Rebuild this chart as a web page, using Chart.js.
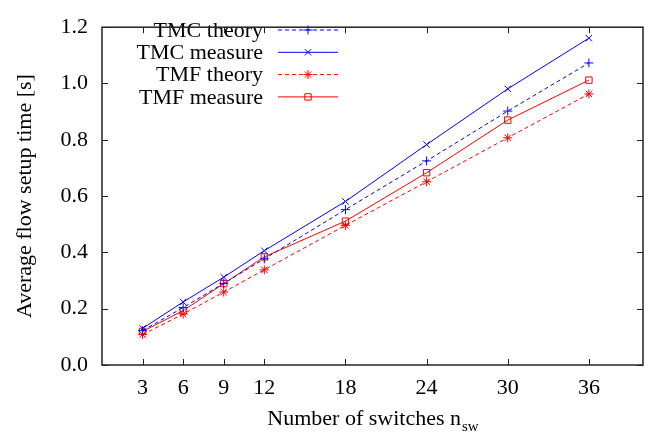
<!DOCTYPE html>
<html>
<head>
<meta charset="utf-8">
<script src="https://cdn.jsdelivr.net/npm/chart.js@4"></script>
<style>
  html, body { margin: 0; padding: 0; background: #fff; }
  #wrap { width: 656px; height: 441px; }
</style>
</head>
<body>
<div id="wrap"><canvas id="chart" width="656" height="441"></canvas></div>
<script>
// data
const switches = [3, 6, 9, 12, 18, 24, 30, 36];
const tmcTheory = [0.122, 0.204, 0.290, 0.377, 0.552, 0.725, 0.902, 1.073];
const tmcMeasure = [0.130, 0.224, 0.312, 0.406, 0.581, 0.783, 0.981, 1.161];
const tmfTheory = [0.108, 0.181, 0.259, 0.338, 0.496, 0.651, 0.807, 0.963];
const tmfMeasure = [0.119, 0.193, 0.289, 0.384, 0.511, 0.683, 0.870, 1.012];
const yTicks = [0, 0.2, 0.4, 0.6, 0.8, 1.0, 1.2];

const FONT = "'Liberation Serif', 'DejaVu Serif', serif";
const SIZE = 22;
const BLUE = "#0000ff";
const RED = "#ff0000";

const toPoints = (ys) => switches.map((x, i) => ({ x: x, y: ys[i] }));

const makeSet = (label, ys, color, dashed, style) => ({
  label: label,
  data: toPoints(ys),
  borderColor: color,
  backgroundColor: "rgba(255,255,255,0)",
  borderWidth: 1,
  borderDash: dashed ? [4, 3] : [],
  pointStyle: style,
  pointRadius: 4.5,
  pointBorderWidth: 1,
  pointBorderColor: color,
  pointBackgroundColor: "rgba(255,255,255,0)",
  tension: 0,
});

// gnuplot style frame with inward ticks on all four sides
const framePlugin = {
  id: "frame",
  afterDraw(chart) {
    const { ctx, chartArea: a, scales } = chart;
    ctx.save();
    ctx.strokeStyle = "#222";
    ctx.lineWidth = 1;
    ctx.beginPath();
    scales.x.ticks.forEach((t) => {
      const px = Math.round(scales.x.getPixelForValue(t.value)) + 0.5;
      ctx.moveTo(px, a.bottom); ctx.lineTo(px, a.bottom - 6);
      ctx.moveTo(px, a.top); ctx.lineTo(px, a.top + 6);
    });
    scales.y.ticks.forEach((t) => {
      const py = Math.round(scales.y.getPixelForValue(t.value)) + 0.5;
      ctx.moveTo(a.left, py); ctx.lineTo(a.left + 6, py);
      ctx.moveTo(a.right, py); ctx.lineTo(a.right - 6, py);
    });
    ctx.stroke();
    ctx.lineWidth = 1.5;
    ctx.strokeRect(a.left, a.top, a.right - a.left, a.bottom - a.top);

    // x axis title with subscript
    const main = "Number of switches n";
    const sub = "sw";
    ctx.fillStyle = "#000";
    ctx.textBaseline = "alphabetic";
    ctx.textAlign = "left";
    ctx.font = SIZE + "px " + FONT;
    const w1 = ctx.measureText(main).width;
    ctx.font = "15px " + FONT;
    const w2 = ctx.measureText(sub).width;
    const x0 = (a.left + a.right) / 2 - (w1 + w2) / 2;
    ctx.font = SIZE + "px " + FONT;
    ctx.fillText(main, x0, 425);
    ctx.font = "15px " + FONT;
    ctx.fillText(sub, x0 + w1 + 1, 431);
    ctx.restore();
  },
};

// key in the top left corner: right aligned text, sample line on its right
const keyPlugin = {
  id: "key",
  afterDatasetsDraw(chart) {
    const { ctx } = chart;
    ctx.save();
    chart.data.datasets.forEach((ds, i) => {
      const y = 30 + i * 22.3;
      ctx.font = SIZE + "px " + FONT;
      ctx.fillStyle = "#000";
      ctx.textAlign = "right";
      ctx.textBaseline = "middle";
      ctx.fillText(ds.label, 263, y + 1);
      ctx.strokeStyle = ds.borderColor;
      ctx.lineWidth = ds.borderWidth;
      ctx.setLineDash(ds.borderDash);
      ctx.beginPath();
      ctx.moveTo(278, y); ctx.lineTo(338, y);
      ctx.stroke();
      ctx.setLineDash([]);
      ctx.fillStyle = ds.pointBackgroundColor;
      Chart.helpers.drawPoint(ctx, {
        pointStyle: ds.pointStyle, radius: ds.pointRadius,
        rotation: 0, borderWidth: ds.pointBorderWidth,
      }, 308, y);
    });
    ctx.restore();
  },
};

new Chart(document.getElementById("chart"), {
  type: "line",
  data: {
    datasets: [
      makeSet("TMC theory", tmcTheory, BLUE, true, "cross"),
      makeSet("TMC measure", tmcMeasure, BLUE, false, "crossRot"),
      makeSet("TMF theory", tmfTheory, RED, true, "star"),
      makeSet("TMF measure", tmfMeasure, RED, false, "rect"),
    ],
  },
  options: {
    responsive: false,
    animation: false,
    devicePixelRatio: 1,
    layout: { padding: { left: 0, right: 13, top: 13, bottom: 0 } },
    plugins: { legend: { display: false }, tooltip: { enabled: false } },
    scales: {
      x: {
        type: "linear",
        min: 0,
        max: 40,
        afterBuildTicks: (s) => { s.ticks = switches.map((v) => ({ value: v })); },
        afterFit: (s) => { s.height = 76; },
        grid: { display: false, drawTicks: false },
        border: { display: false },
        ticks: { color: "#000", font: { family: FONT, size: SIZE }, padding: 10, maxRotation: 0 },
      },
      y: {
        min: 0,
        max: 1.2,
        afterBuildTicks: (s) => { s.ticks = yTicks.map((v) => ({ value: v })); },
        afterFit: (s) => { s.width = 102; },
        grid: { display: false, drawTicks: false },
        border: { display: false },
        ticks: {
          color: "#000",
          font: { family: FONT, size: SIZE },
          padding: 14,
          callback: (v) => Number(v).toFixed(1),
        },
        title: {
          display: true,
          text: "Average flow setup time [s]",
          color: "#000",
          font: { family: FONT, size: SIZE },
          padding: { top: 12, bottom: 0 },
        },
      },
    },
  },
  plugins: [framePlugin, keyPlugin],
});
</script>
</body>
</html>
